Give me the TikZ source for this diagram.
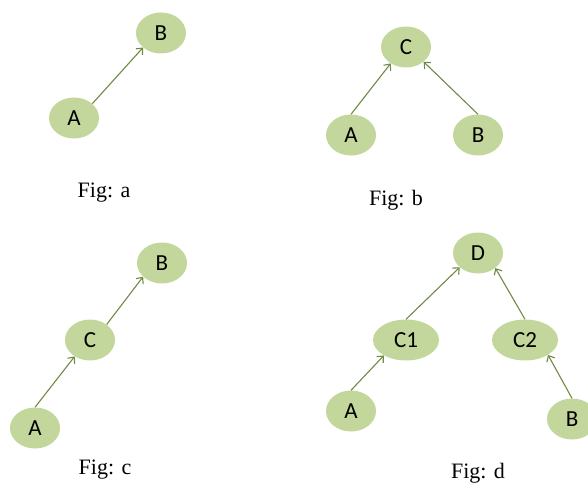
\documentclass[tikz,border=0pt]{standalone}
\usepackage{fontspec}
\setmainfont{Liberation Serif}
\newfontfamily\calibrifont{Carlito}
\usetikzlibrary{shapes.geometric,arrows.meta}
\definecolor{leafgreen}{HTML}{C3D69B}
\definecolor{olivearrow}{HTML}{6F8A45}

\begin{document}
\begin{tikzpicture}[x=1pt,y=-1pt,
	vertex/.style={ellipse,fill=leafgreen,minimum width=50pt,minimum height=41pt,inner sep=0pt,font=\calibrifont\fontsize{23}{26}\selectfont},
	widevertex/.style={vertex,minimum width=66pt},
	link/.style={draw=olivearrow,line width=1.1pt,-{Straight Barb[length=5pt,width=9pt]}},
	caption/.style={anchor=base,font=\fontsize{22}{26}\selectfont}]
	
	\useasboundingbox (0,0) rectangle (588,484);
	
	% Fig a
	\node[vertex] (aB) at (161,33) {B};
	\node[vertex] (aA) at (74,118) {A};
	\draw[link] (aA.38) -- (aB.219);
	\node[caption] (capa) at (104,197) {Fig: a};
	
	% Fig b
	\node[vertex] (bC) at (406,47) {C};
	\node[vertex] (bA) at (351,135) {A};
	\node[vertex] (bB) at (478,135) {B};
	\draw[link] (bA.north) -- (bC.227);
	\draw[link] (bB.north) -- (bC.320);
	\node[caption] (capb) at (396,205) {Fig: b};
	
	% Fig c
	\node[vertex] (cB) at (162,263) {B};
	\node[vertex] (cC) at (90,340) {C};
	\node[vertex] (cA) at (35,428) {A};
	\draw[link] (cA.north) -- (cC.227);
	\draw[link] (cC.43) -- (cB.216);
	\node[caption] (capc) at (105,474) {Fig: c};
	
	% Fig d
	\node[vertex] (dD) at (478,253) {D};
	\node[widevertex] (dC1) at (406,340) {C1};
	\node[widevertex] (dC2) at (525,340) {C2};
	\node[vertex] (dA) at (351,411) {A};
	\node[vertex] (dB) at (572,419) {B};
	\draw[link] (dC1.north) -- (dD.218);
	\draw[link] (dC2.north) -- (dD.319);
	\draw[link] (dA.north) -- (dC1.215);
	\draw[link] (dB.north) -- (dC2.327);
	\node[caption] (capd) at (478,478) {Fig: d};
	
\end{tikzpicture}
\end{document}
